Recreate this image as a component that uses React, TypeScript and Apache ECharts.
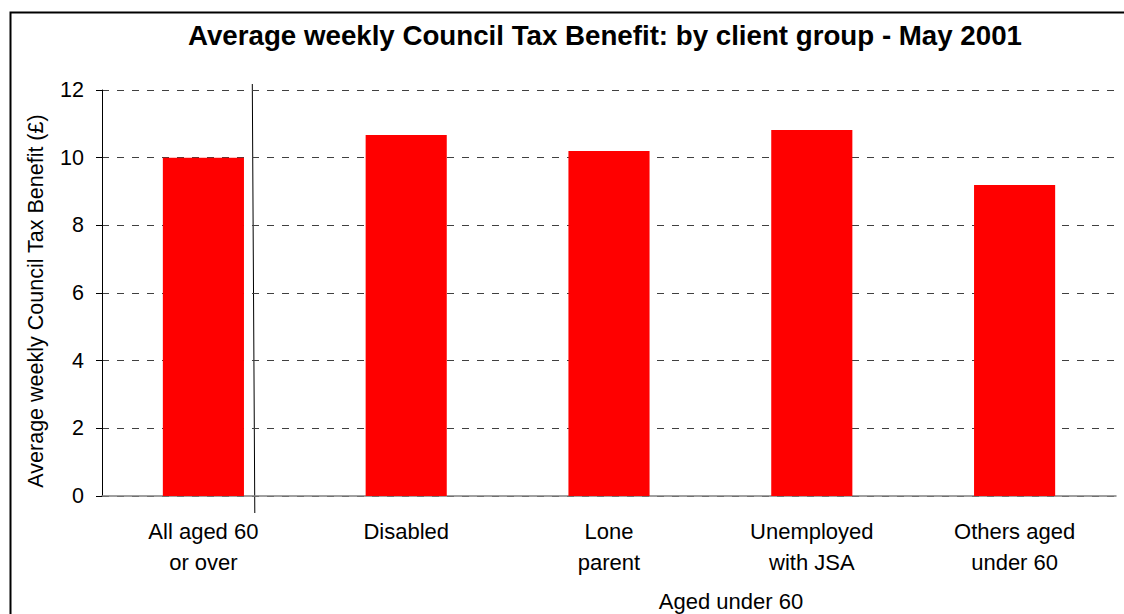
import React, { useEffect, useRef } from "react";
import * as echarts from "echarts";

const categories: string[] = [
  "All aged 60\nor over",
  "Disabled",
  "Lone\nparent",
  "Unemployed\nwith JSA",
  "Others aged\nunder 60",
];
const values: number[] = [10.0, 10.67, 10.2, 10.82, 9.19];
const yTicks = { min: 0, max: 12, interval: 2 };
const titleText = "Average weekly Council Tax Benefit: by client group - May 2001";
const yAxisName = "Average weekly Council Tax Benefit (£)";
const groupLabel = "Aged under 60";

const FONT = "'Liberation Sans', Arial, sans-serif";

export default function App() {
  const ref = useRef<HTMLDivElement>(null);
  useEffect(() => {
    if (!ref.current) return;
    const chart = echarts.init(ref.current, undefined, { renderer: "svg" });
    chart.setOption({
      animation: false,
      backgroundColor: "#ffffff",
      title: {
        text: titleText,
        left: 183,
        top: 16,
        textStyle: { fontFamily: FONT, fontSize: 27.7, fontWeight: "bold", color: "#000" },
      },
      grid: { left: 102, top: 90, right: 8, bottom: 118 },
      xAxis: {
        type: "category",
        data: categories,
        axisTick: { show: false },
        axisLine: { lineStyle: { color: "#808080", width: 1.5 } },
        axisLabel: {
          fontFamily: FONT,
          fontSize: 22,
          color: "#000",
          lineHeight: 31,
          margin: 20,
          interval: 0,
        },
      },
      yAxis: {
        type: "value",
        min: yTicks.min,
        max: yTicks.max,
        interval: yTicks.interval,
        axisLine: { show: true, lineStyle: { color: "#000", width: 1 } },
        axisTick: { show: true, length: 6, lineStyle: { color: "#000" } },
        axisLabel: { fontFamily: FONT, fontSize: 21.5, color: "#000", margin: 18 },
        splitLine: { show: true, lineStyle: { color: "#404040", type: [7, 8], width: 1 } },
      },
      series: [
        {
          type: "bar",
          data: values,
          barWidth: "40%",
          itemStyle: { color: "#ff0000" },
        },
      ],
      graphic: [
        {
          type: "rect",
          shape: { x: 10.5, y: 12.5, width: 1300, height: 800 },
          style: { fill: "none", stroke: "#000", lineWidth: 2 },
          silent: true,
        },
        {
          type: "text",
          x: 36,
          y: 301,
          rotation: Math.PI / 2,
          style: {
            text: yAxisName,
            fontFamily: FONT,
            fontSize: 21.5,
            fill: "#000",
            align: "center",
            verticalAlign: "middle",
          },
        },
        {
          type: "line",
          shape: { x1: 252.3, y1: 84, x2: 254.8, y2: 513 },
          style: { stroke: "#000", lineWidth: 1 },
        },
        {
          type: "text",
          x: 731,
          y: 601,
          style: {
            text: groupLabel,
            fontFamily: FONT,
            fontSize: 22,
            fill: "#000",
            align: "center",
            verticalAlign: "middle",
          },
        },
      ],
    });
    return () => chart.dispose();
  }, []);
  return (
    <div
      ref={ref}
      style={{ position: "fixed", left: 0, top: 0, width: 1124, height: 614 }}
    />
  );
}
